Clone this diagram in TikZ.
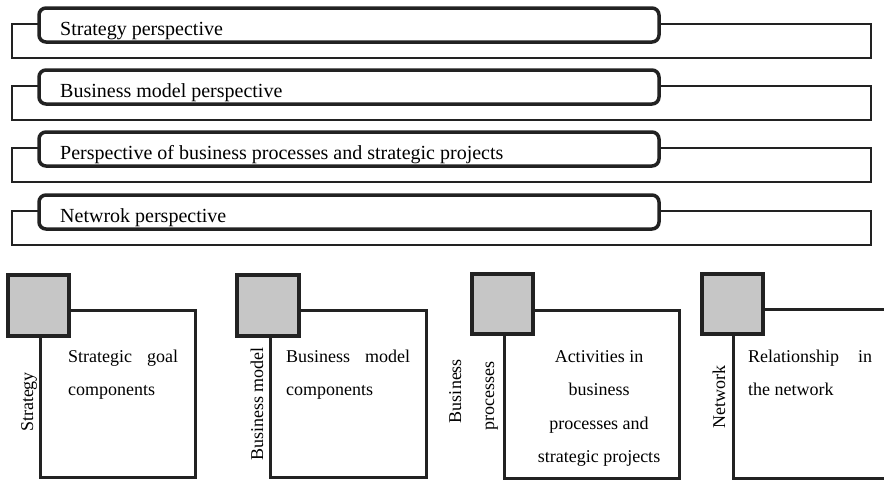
\documentclass[tikz,border=0pt]{standalone}
\usepackage{fontspec}
\setmainfont{Liberation Serif}
\definecolor{ink}{HTML}{222222}
\definecolor{sqfill}{HTML}{C6C6C6}
\begin{document}
\begin{tikzpicture}[x=1pt,y=-1pt,
  bgrect/.style={draw=ink,line width=2pt},
  rbox/.style={draw=ink,line width=3.5pt,rounded corners=7pt,fill=white},
  gsq/.style={draw=ink,line width=4pt,fill=sqfill},
  panel/.style={draw=ink,line width=3pt},
  toptext/.style={anchor=base west,inner sep=0pt,font=\fontsize{20}{24}\selectfont},
  ptext/.style={anchor=base west,inner sep=0pt,font=\fontsize{18}{22}\selectfont},
  ctext/.style={anchor=base,inner sep=0pt,font=\fontsize{18}{22}\selectfont},
  vlabel/.style={anchor=base,rotate=90,inner sep=0pt,font=\fontsize{18}{22}\selectfont}]
\useasboundingbox (0,0) rectangle (884,482);
\fill[white] (0,0) rectangle (884,482);
% top perspective rows
\foreach \t/\name/\txt in {6/r1/Strategy perspective,68/r2/Business model perspective,130/r3/Perspective of business processes and strategic projects,193/r4/Netwrok perspective}{
  \draw[bgrect] (12,\t+18) rectangle (871,\t+52);
  \draw[rbox] (39,\t+2) rectangle (659,\t+36);
  \node[toptext] (\name) at (60,\t+29.5) {\txt};
}
% panel 1
\draw[panel] (40,310) rectangle (195,477);
\draw[gsq] (8,275) rectangle (69,336);
\node[ptext,text width=110pt] (p1a) at (68,362) {Strategic\hfill goal};
\node[ptext] (p1b) at (68,395) {components};
\node[vlabel] (v1) at (33,402) {Strategy};
% panel 2
\draw[panel] (270,310) rectangle (426,477);
\draw[gsq] (237,275) rectangle (299,336);
\node[ptext,text width=124pt] (p2a) at (286,362) {Business\hfill model};
\node[ptext] (p2b) at (286,395) {components};
\node[vlabel] (v2) at (263,404) {Business model};
% panel 3
\draw[panel] (504,310) rectangle (679,478);
\draw[gsq] (472,274) rectangle (533,334);
\node[ctext] (p3a) at (599,362) {Activities in};
\node[ctext] (p3b) at (599,395) {business};
\node[ctext] (p3c) at (599,429) {processes and};
\node[ctext] (p3d) at (599,462) {strategic projects};
\node[vlabel] (v3a) at (461,391) {Business};
\node[vlabel] (v3b) at (494,396) {processes};
% panel 4
\draw[panel] (884,309.5) -- (733,309.5) -- (733,478) -- (884,478);
\draw[gsq] (702,274) rectangle (763,334);
\node[ptext,text width=124pt] (p4a) at (748,362) {Relationship\hfill in};
\node[ptext] (p4b) at (748,395) {the network};
\node[vlabel] (v4) at (725,397) {Network};
\end{tikzpicture}
\end{document}
